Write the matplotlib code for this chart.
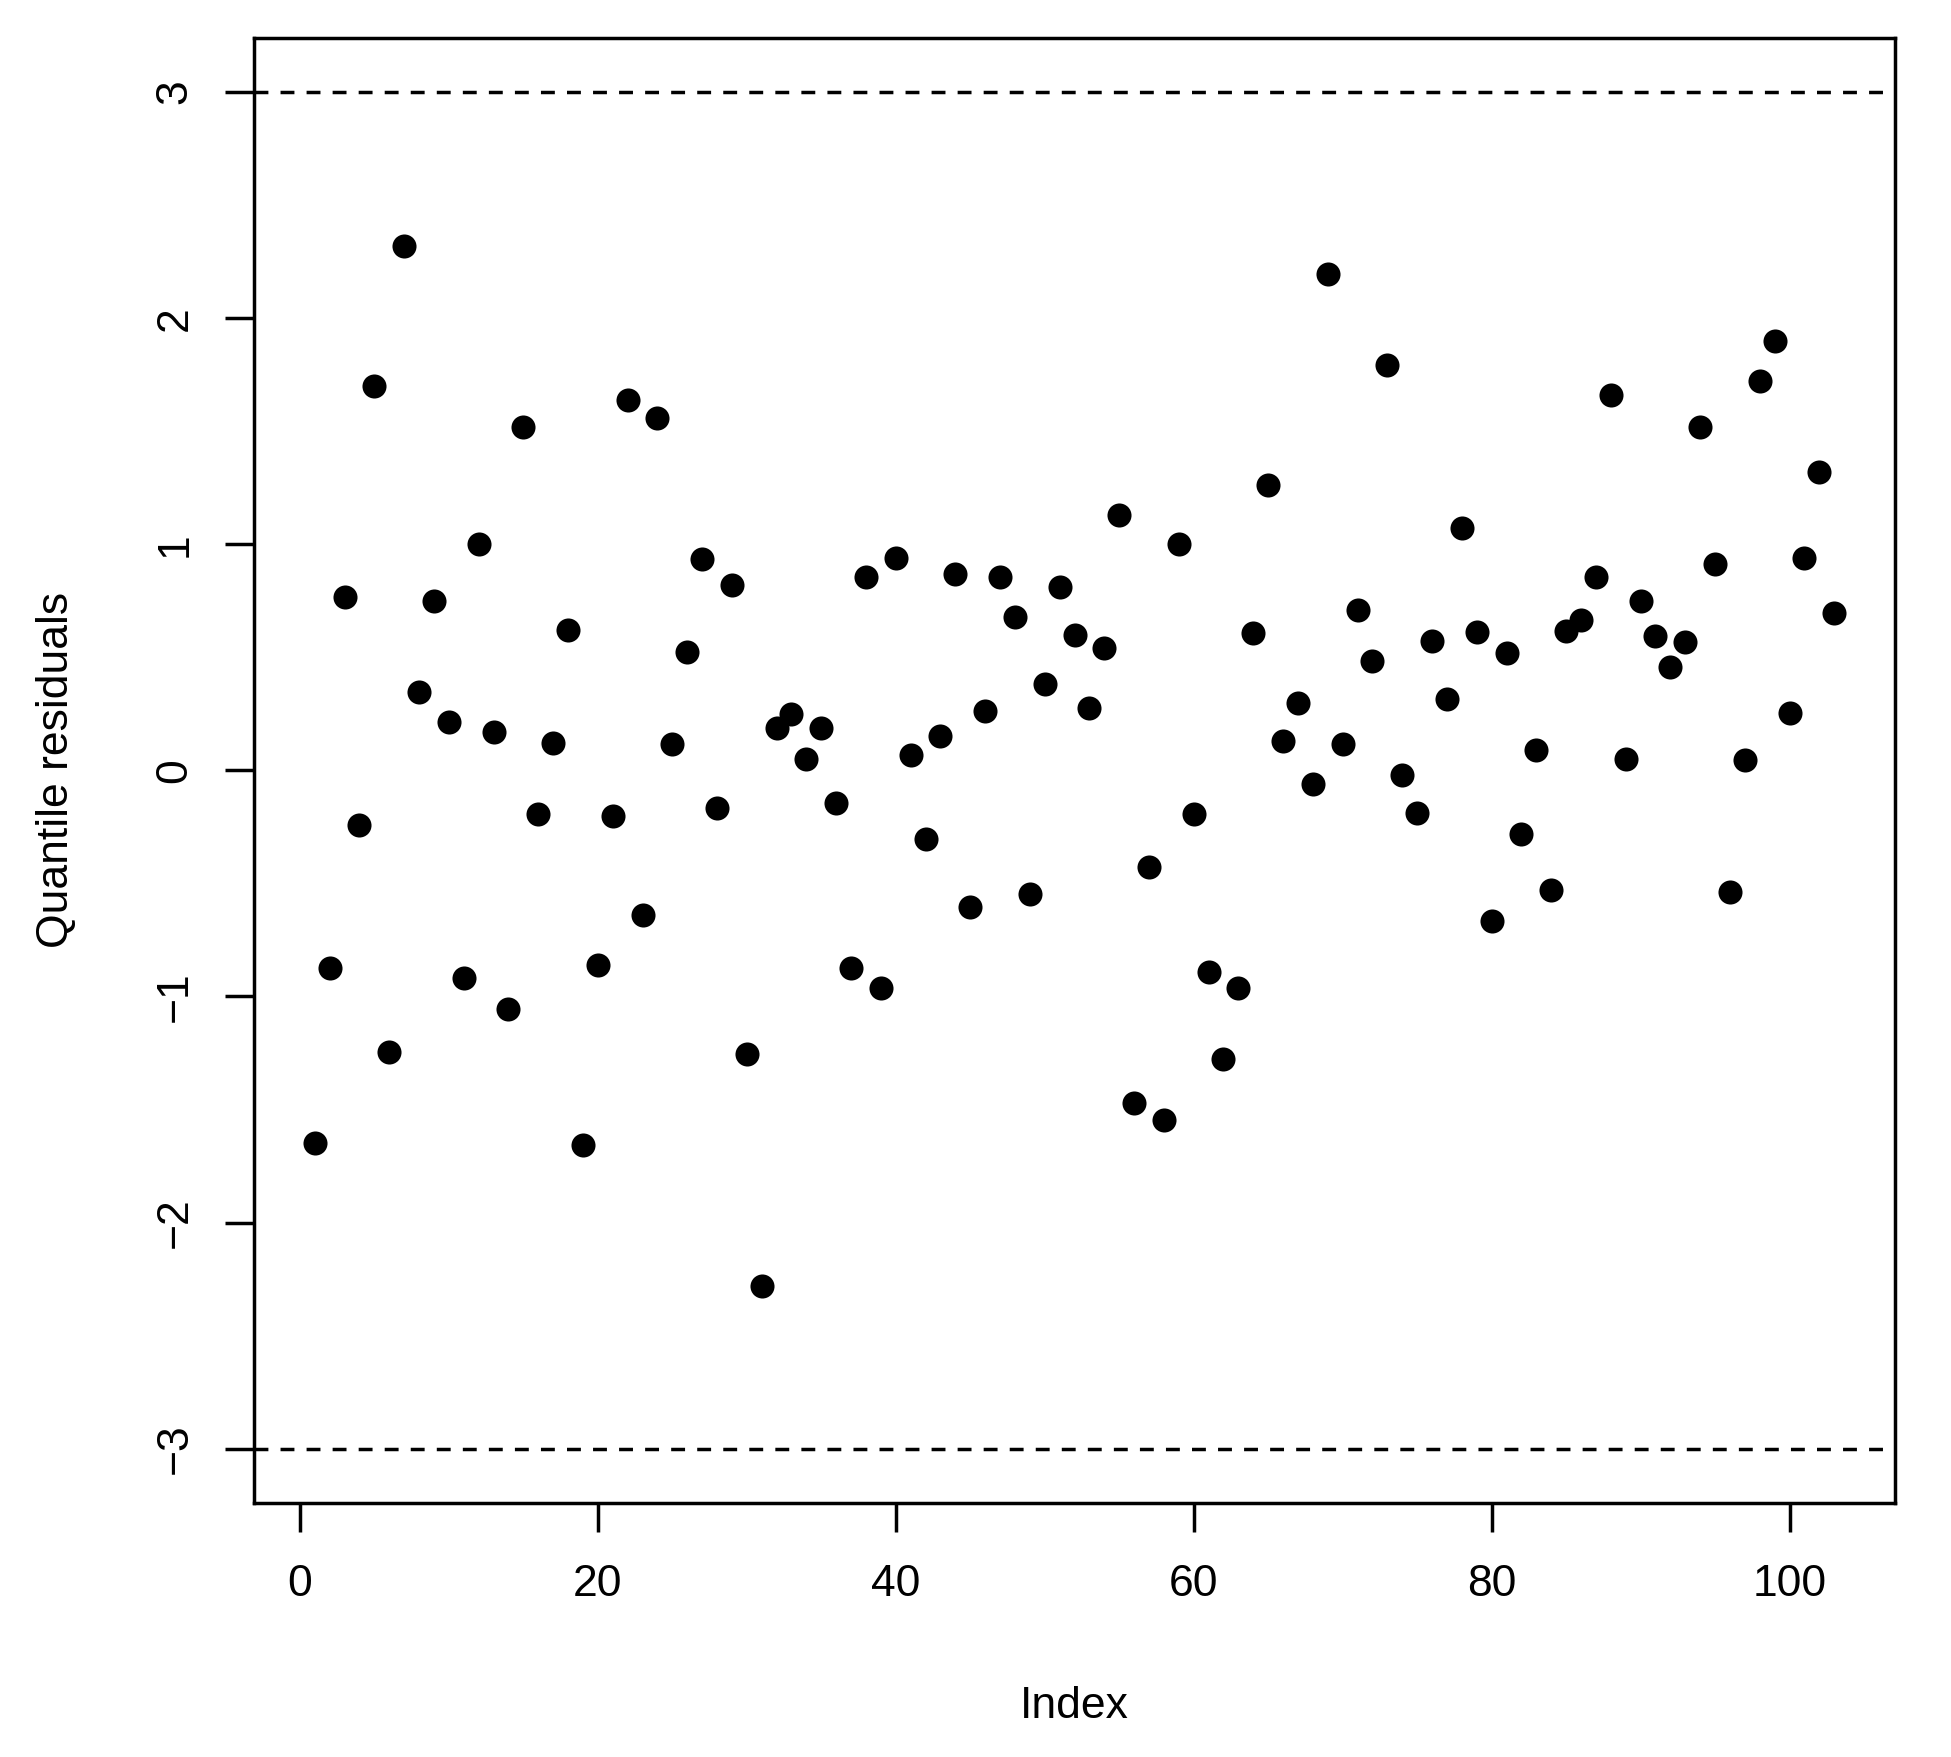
import matplotlib
matplotlib.use("Agg")
import numpy as np
import matplotlib.pyplot as plt

plt.rcParams["font.family"] = ["Liberation Sans", "DejaVu Sans"]

residuals = [
    -1.65, -0.875, 0.765, -0.242, 1.70, -1.244, 2.317, 0.347, 0.749, 0.215,
    -0.919, 1.002, 0.171, -1.057, 1.519, -0.193, 0.121, 0.622, -1.657, -0.859,
    -0.204, 1.640, -0.639, 1.558, 0.116, 0.523, 0.936, -0.165, 0.820, -1.255,
    -2.279, 0.187, 0.248, 0.050, 0.187, -0.143, -0.875, 0.853, -0.963, 0.941,
    0.066, -0.303, 0.154, 0.870, -0.606, 0.264, 0.853, 0.677, -0.545, 0.380,
    0.809, 0.600, 0.275, 0.539, 1.128, -1.470, -0.429, -1.547, 1.002, -0.193,
    -0.892, -1.277, -0.963, 0.606, 1.261, 0.132, 0.297, -0.061, 2.196, 0.116,
    0.710, 0.484, 1.794, -0.022, -0.187, 0.572, 0.314, 1.073, 0.611, -0.666,
    0.517, -0.281, 0.088, -0.528, 0.617, 0.666, 0.853, 1.662, 0.050, 0.749,
    0.595, 0.457, 0.567, 1.519, 0.914, -0.539, 0.044, 1.723, 1.899, 0.253,
    0.941, 1.321, 0.694,
]
index = np.arange(1, len(residuals) + 1)
ref_lines = [-3, 3]
x_ticks = [0, 20, 40, 60, 80, 100]
y_ticks = [-3, -2, -1, 0, 1, 2, 3]
y_ticklabels = ["\u22123", "\u22122", "\u22121", "0", "1", "2", "3"]

fig = plt.figure(figsize=(19.51, 17.57), dpi=100)
ax = fig.add_axes([0.1302, 0.1446, 0.9713 - 0.1302, 0.9785 - 0.1446])

ax.scatter(index, residuals, s=300, color="black", linewidths=0, zorder=3)
for yv in ref_lines:
    ax.axhline(yv, color="black", lw=2.5, linestyle=(0, (4, 3.5)), zorder=2)

n = len(residuals)
ax.set_xlim(1 - 0.04 * (n - 1), n + 0.04 * (n - 1))
ax.set_ylim(-3.24, 3.24)

ax.set_xticks(x_ticks)
ax.set_yticks(y_ticks)
ax.set_yticklabels(y_ticklabels, rotation=90, va="center")

for sp in ax.spines.values():
    sp.set_linewidth(2.5)
ax.tick_params(axis="both", direction="out", length=21, width=2.5,
               labelsize=32)
ax.tick_params(axis="x", pad=23)
ax.tick_params(axis="y", pad=21)

ax.set_xlabel("Index", fontsize=32, labelpad=58)
ax.set_ylabel("Quantile residuals", fontsize=32, labelpad=56)

fig.savefig("out.png", dpi=100)
